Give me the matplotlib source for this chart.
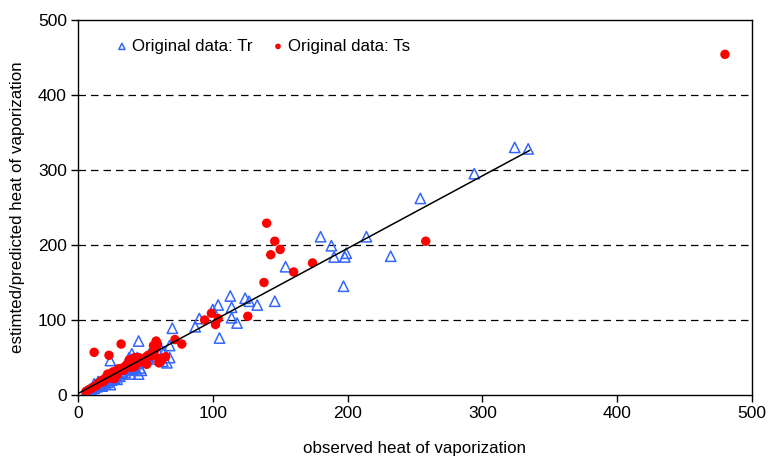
import numpy as np
import matplotlib
matplotlib.use('Agg')
import matplotlib.pyplot as plt

plt.rcParams['font.family'] = ['Liberation Sans', 'DejaVu Sans']

# Original data: Tr (observed, estimated)
tr_x = [324, 334, 294, 254, 232, 214, 180, 188, 190, 199, 198, 197, 154, 146, 133,
        124, 127, 113, 114, 114, 118, 105, 104, 100, 90, 87, 70, 45, 24, 68, 68, 66,
        5, 6, 7, 8, 9, 10, 11, 12, 13, 14, 15, 16, 17, 18, 19, 20, 21, 22, 23, 24,
        25, 26, 27, 28, 29, 30, 31, 32, 33, 35, 36, 38, 39, 40, 41, 42, 43, 44, 45,
        46, 47, 48, 50, 52, 53, 55, 57, 58, 60, 62, 63, 64, 40, 38, 44, 35, 15, 12,
        20, 27]
tr_y = [330, 328, 295, 262, 185, 211, 211, 199, 184, 189, 184, 145, 171, 125, 120,
        129, 125, 132, 117, 103, 96, 76, 120, 114, 102, 91, 89, 72, 46, 66, 50, 43,
        2, 4, 5, 6, 8, 7, 10, 9, 12, 11, 14, 13, 16, 12, 18, 15, 19, 17, 21, 14,
        20, 24, 22, 26, 21, 27, 25, 29, 31, 30, 34, 36, 28, 38, 35, 40, 33, 42, 28,
        36, 33, 44, 47, 50, 55, 58, 52, 48, 56, 60, 45, 58, 55, 50, 50, 40, 18, 15,
        22, 30]

# Original data: Ts (observed, estimated)
ts_x = [480, 258, 140, 146, 143, 150, 160, 174, 138, 126, 94, 99, 102, 104, 77,
        72, 65, 58, 56, 12, 23, 32, 60, 51, 42,
        6, 8, 10, 12, 14, 15, 17, 18, 19, 20, 21, 22, 23, 24, 25, 26, 27, 28, 29,
        30, 32, 33, 34, 35, 36, 38, 38, 40, 40, 42, 44, 46, 48, 50, 52, 54, 55, 57,
        58, 59, 60, 62, 30, 22, 26, 31, 36, 42, 45]
ts_y = [454, 205, 229, 205, 187, 194, 164, 176, 150, 105, 100, 109, 94, 102, 68,
        74, 51, 72, 66, 57, 53, 68, 43, 41, 50,
        5, 7, 9, 11, 13, 16, 17, 20, 18, 21, 24, 22, 25, 27, 23, 28, 22, 30, 27,
        32, 34, 36, 33, 38, 40, 42, 47, 45, 37, 48, 46, 44, 47, 50, 53, 52, 56, 60,
        64, 68, 49, 46, 35, 28, 31, 35, 37, 38, 50]

# trend line
fit_slope = 0.967
fit_intercept = 2.0
fit_range = [1, 335]

fig = plt.figure(figsize=(7.72, 4.61), dpi=100)
ax = fig.add_axes([0.101, 0.143, 0.873, 0.814])

for yv in [100, 200, 300, 400]:
    ax.axhline(yv, color='black', lw=0.9, ls=(0, (6, 4)), zorder=1)

ax.scatter(tr_x, tr_y, marker='^', s=55, facecolors='none', edgecolors='#3366ff',
           linewidths=1.1, label='Original data: Tr', zorder=3)
ax.scatter(ts_x, ts_y, marker='o', s=46, color='#ff0000', edgecolors='none',
           label='Original data: Ts', zorder=3)

fx = np.array(fit_range)
ax.plot(fx, fit_intercept + fit_slope * fx, color='black', lw=1.1, zorder=4)

ax.set_xlim(0, 500)
ax.set_ylim(0, 500)
ax.set_xticks([0, 100, 200, 300, 400, 500])
ax.set_yticks([0, 100, 200, 300, 400, 500])
ax.tick_params(direction='out', length=5, width=1, labelsize=12.5, pad=3)
for sp in ax.spines.values():
    sp.set_linewidth(1.0)

ax.set_xlabel('observed heat of vaporization', fontsize=12.2, labelpad=14)
ax.set_ylabel('estimted/predicted heat of vaporization', fontsize=12.2, labelpad=9)

ax.legend(loc='upper left', bbox_to_anchor=(0.03, 0.99), ncol=2, frameon=False,
          fontsize=12.2, handletextpad=0.1, columnspacing=1.0, markerscale=0.6,
          scatterpoints=1, handlelength=1.0)

fig.savefig('out.png', dpi=100)
